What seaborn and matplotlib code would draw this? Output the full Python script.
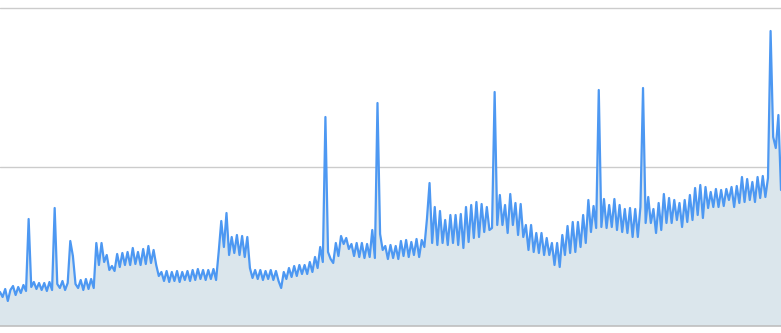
import numpy as np
import pandas as pd
import matplotlib
matplotlib.use("Agg")
import matplotlib.pyplot as plt
import seaborn as sns

# Half-weekly values (arbitrary units; gridlines at 159 and 318)
values = [
    34, 29, 37, 25, 36, 40, 31, 39, 33, 41, 35, 107, 39, 44, 37, 43, 36, 43, 35, 44,
    36, 118, 42, 38, 45, 36, 43, 85, 70, 42, 38, 46, 36, 47, 37, 47, 38, 83, 61, 83,
    64, 71, 56, 60, 55, 72, 59, 73, 61, 74, 61, 78, 62, 74, 61, 77, 62, 80, 63, 76,
    61, 50, 54, 45, 55, 44, 54, 45, 55, 44, 54, 46, 55, 45, 56, 46, 57, 47, 56, 46,
    56, 47, 57, 46, 74, 105, 79, 113, 71, 89, 73, 91, 71, 90, 69, 89, 58, 48, 56, 47,
    56, 46, 55, 47, 56, 46, 55, 45, 38, 54, 47, 58, 49, 60, 50, 61, 52, 61, 52, 64,
    54, 69, 58, 79, 64, 209, 74, 67, 63, 83, 70, 90, 82, 88, 77, 82, 70, 83, 69, 83,
    68, 82, 69, 96, 68, 223, 92, 76, 80, 67, 81, 68, 80, 67, 85, 70, 86, 69, 84, 71,
    87, 69, 86, 79, 107, 143, 83, 119, 81, 115, 83, 106, 81, 111, 83, 111, 81, 112, 78, 119,
    84, 121, 88, 124, 89, 122, 94, 119, 96, 98, 234, 101, 131, 101, 121, 93, 132, 101, 123, 91,
    122, 89, 101, 76, 101, 74, 93, 73, 93, 71, 88, 71, 83, 61, 83, 59, 91, 71, 100, 73,
    104, 74, 104, 79, 111, 83, 126, 94, 120, 98, 236, 99, 127, 98, 121, 99, 127, 96, 121, 94,
    117, 93, 118, 89, 117, 89, 119, 238, 103, 129, 103, 117, 93, 123, 96, 132, 103, 128, 103, 126,
    106, 123, 99, 126, 104, 131, 106, 138, 111, 141, 108, 139, 118, 134, 119, 137, 119, 136, 120, 137,
    126, 139, 119, 140, 123, 149, 124, 147, 126, 144, 124, 149, 128, 150, 129, 148, 295, 189, 178, 211,
    136,
]
grid_levels = [159, 318]

df = pd.DataFrame({"t": np.arange(len(values)), "value": values})

sns.set_theme(style="white")
fig = plt.figure(figsize=(7.81, 3.33), dpi=100)
ax = fig.add_axes([0, 7 / 333, 1, 326 / 333])

line_color = "#4d98f2"
fill_color = "#dbe6ec"

ax.fill_between(df["t"], df["value"], 0, color=fill_color, linewidth=0, zorder=1)
sns.lineplot(data=df, x="t", y="value", ax=ax, color=line_color, linewidth=1.6, zorder=3)

for g in grid_levels:
    ax.axhline(g, color="#cccccc", linewidth=1.0, zorder=0)

ax.set_xlim(df["t"].min(), df["t"].max())
ax.set_ylim(0, 326)
ax.set_xticks([])
ax.set_yticks([])
ax.set_xlabel("")
ax.set_ylabel("")
for s in ["top", "left", "right"]:
    ax.spines[s].set_visible(False)
ax.spines["bottom"].set_color("#bfbfbf")
ax.spines["bottom"].set_linewidth(1.2)
ax.patch.set_alpha(0)

fig.savefig("out.png", dpi=100)
